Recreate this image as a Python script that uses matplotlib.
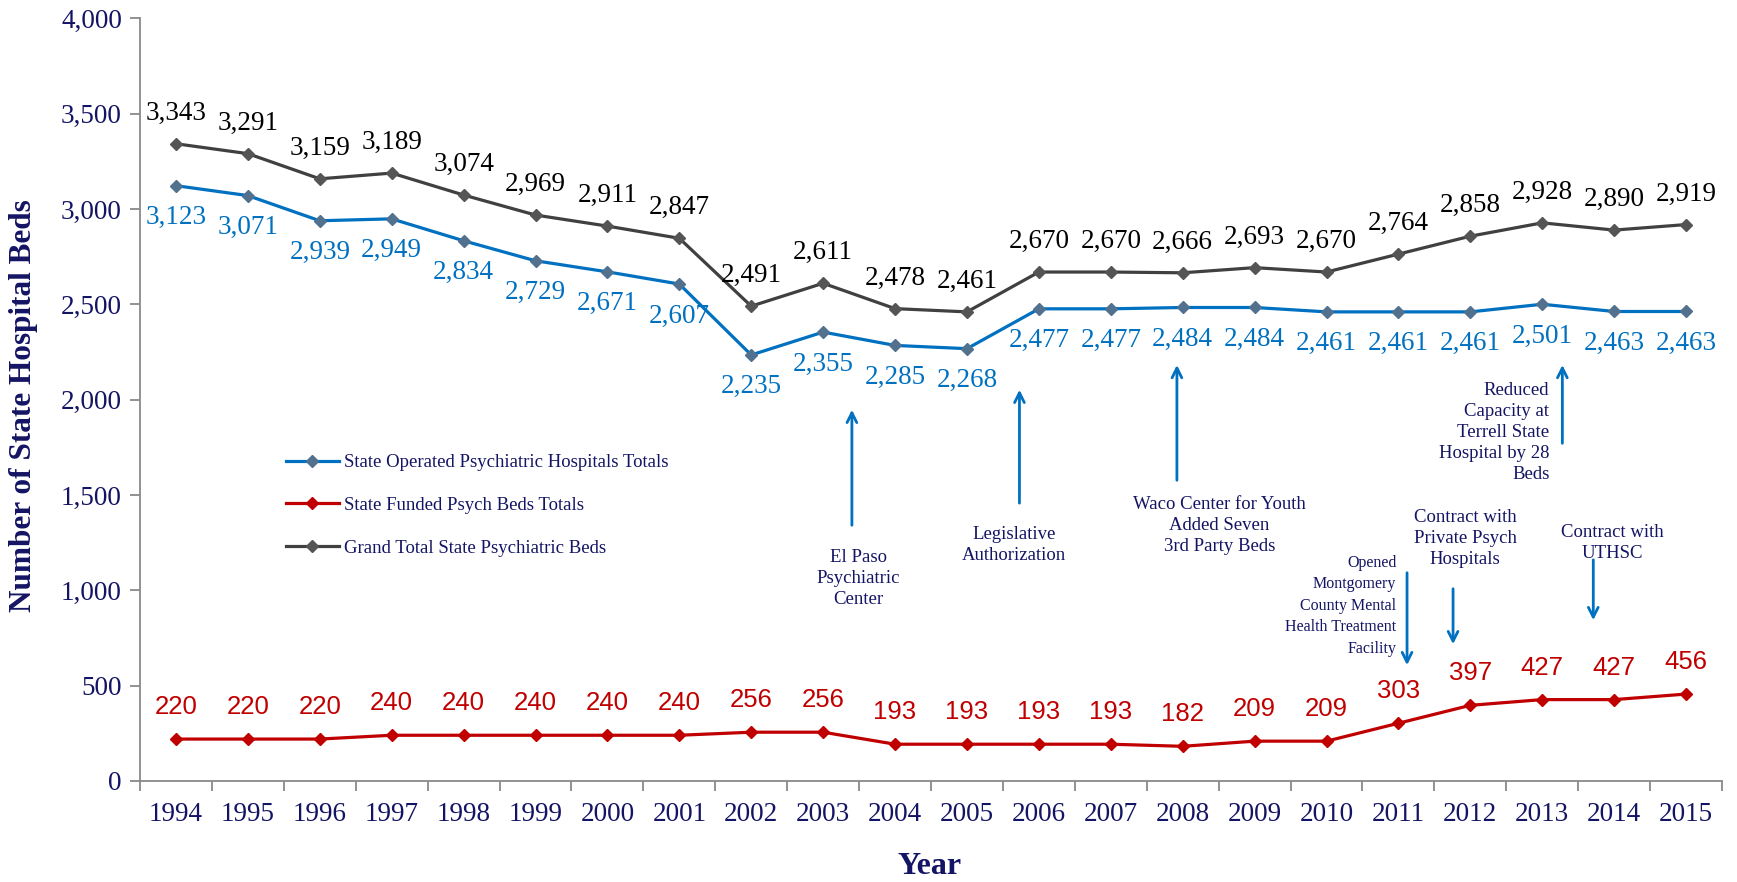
import numpy as np
import matplotlib
matplotlib.use('Agg')
import matplotlib.pyplot as plt
from matplotlib.ticker import FuncFormatter

years = [str(y) for y in range(1994, 2016)]
state_operated = [3123, 3071, 2939, 2949, 2834, 2729, 2671, 2607, 2235, 2355, 2285,
                  2268, 2477, 2477, 2484, 2484, 2461, 2461, 2461, 2501, 2463, 2463]
state_funded = [220, 220, 220, 240, 240, 240, 240, 240, 256, 256, 193,
                193, 193, 193, 182, 209, 209, 303, 397, 427, 427, 456]
grand_total = [3343, 3291, 3159, 3189, 3074, 2969, 2911, 2847, 2491, 2611, 2478,
               2461, 2670, 2670, 2666, 2693, 2670, 2764, 2858, 2928, 2890, 2919]

navy = '#141464'
blue = '#0070C0'
red = '#C00000'
dark = '#404040'
serif = 'Liberation Serif'
sans = 'Liberation Sans'

fig = plt.figure(figsize=(17.37, 8.82), dpi=100)
ax = fig.add_axes([140/1737, 1-781/882, (1722-140)/1737, (781-18.5)/882])

x = np.arange(len(years))
ax.plot(x, state_operated, color=blue, lw=2.3, marker='D', ms=6.5,
        mfc='#51718f', mec='#51718f', label='State Operated Psychiatric Hospitals Totals', zorder=3)
ax.plot(x, state_funded, color=red, lw=2.3, marker='D', ms=6.5,
        mfc=red, mec=red, label='State Funded Psych Beds Totals', zorder=3)
ax.plot(x, grand_total, color=dark, lw=2.3, marker='D', ms=6.5,
        mfc='#555555', mec='#555555', label='Grand Total State Psychiatric Beds', zorder=3)

for i in x:
    ax.annotate(f'{grand_total[i]:,}', (i, grand_total[i]), xytext=(0, 22), textcoords='offset points',
                ha='center', va='center', fontsize=19.5, family=serif, color='black')
    ax.annotate(f'{state_operated[i]:,}', (i, state_operated[i]), xytext=(0, -23), textcoords='offset points',
                ha='center', va='center', fontsize=19.5, family=serif, color=blue)
    ax.annotate(f'{state_funded[i]:,}', (i, state_funded[i]), xytext=(0, 23), textcoords='offset points',
                ha='center', va='center', fontsize=18.5, family=sans, color=red)

ax.set_xlim(-0.5, len(years) - 0.5)
ax.set_ylim(0, 4000)
ax.set_yticks(np.arange(0, 4001, 500))
ax.yaxis.set_major_formatter(FuncFormatter(lambda v, p: f'{int(v):,}'))
ax.set_xticks(x)
ax.set_xticklabels(years)
ax.set_xticks(np.arange(-0.5, len(years)), minor=True)
ax.tick_params(axis='x', which='major', length=0, pad=15, labelsize=19.5, labelcolor=navy)
ax.tick_params(axis='x', which='minor', length=7, width=1.3, color='#898989')
ax.tick_params(axis='y', length=7, width=1.3, color='#898989', pad=6, labelsize=19.5, labelcolor=navy)
for lab in ax.get_xticklabels() + ax.get_yticklabels():
    lab.set_fontfamily(serif)
for s in ['top', 'right']:
    ax.spines[s].set_visible(False)
for s in ['left', 'bottom']:
    ax.spines[s].set_color('#898989')
    ax.spines[s].set_linewidth(1.3)

fig.text(24/1737, 1-406/882, 'Number of State Hospital Beds', rotation=90, ha='center', va='center',
         fontsize=22.5, fontweight='bold', family=serif, color=navy)
fig.text(930/1737, 1-867/882, 'Year', ha='center', va='center',
         fontsize=23, fontweight='bold', family=serif, color=navy)

leg = ax.legend(loc='upper left', bbox_to_anchor=(286/1737, 1-454/882), bbox_transform=fig.transFigure,
                frameon=False, borderpad=0, borderaxespad=0, handlelength=2.8, handletextpad=0.3,
                labelspacing=1.37, prop={'family': serif, 'size': 13.5})
for t in leg.get_texts():
    t.set_color(navy)

# event annotations
arrow = dict(arrowstyle='->,head_length=0.7,head_width=0.35', color=blue, lw=2)
notes = [
    ('El Paso\nPsychiatric\nCenter', 9.49, 1218, 'center', 13.5, 9.40, 1327, 1962),
    ('Legislative\nAuthorization', 11.66, 1340, 'center', 13.5, 11.73, 1443, 2067),
    ('Waco Center for Youth\nAdded Seven\n3rd Party Beds', 14.51, 1495, 'center', 13.5, 13.92, 1563, 2197),
    ('Reduced\nCapacity at\nTerrell State\nHospital by 28\nBeds', 19.10, 2094, 'right', 13.5, 19.28, 1757, 2197),
    ('Opened\nMontgomery\nCounty Mental\nHealth Treatment\nFacility', 16.97, 1186, 'right', 11.5, 17.12, 1107, 593),
    ('Contract with\nPrivate Psych\nHospitals', 17.93, 1426, 'center', 13.5, 17.76, 1023, 703),
    ('Contract with\nUTHSC', 19.97, 1350, 'center', 13.5, 19.71, 1175, 829),
]
for txt, tx, ty, ha, fs, axx, y0, y1 in notes:
    ls = 1.32 if fs > 12 else 1.46
    ax.text(tx, ty, txt, ha=ha, va='top', multialignment=ha, fontsize=fs, family=serif,
            color=navy, linespacing=ls, zorder=4)
    ax.annotate('', xy=(axx, y1), xytext=(axx, y0), arrowprops=arrow, zorder=5)

fig.savefig('out.png', dpi=100)
